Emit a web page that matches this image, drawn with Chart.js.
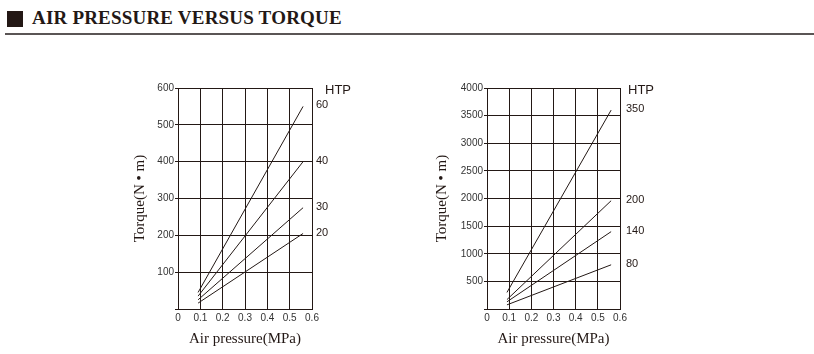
<!DOCTYPE html>
<html>
<head>
<meta charset="utf-8">
<script src="https://cdn.jsdelivr.net/npm/chart.js@4"></script>
<style>
  body { margin: 0; width: 814px; height: 354px; background: #fff; position: relative; overflow: hidden; }
  .head { position: absolute; left: 7px; top: 11px; height: 16px; }
  .head .box { position: absolute; left: 0; top: 0; width: 16px; height: 16px; background: #231815; }
  .head .txt { position: absolute; left: 25px; top: -4px; font: bold 19px "Liberation Serif", serif; color: #231815; white-space: nowrap; letter-spacing: 0.2px; }
  .rule { position: absolute; left: 5px; top: 33px; width: 809px; height: 2px; background: #5a5555; }
  .wrap { position: absolute; top: 78px; width: 250px; height: 272px; }
</style>
</head>
<body>
<div class="head"><div class="box"></div><div class="txt">AIR PRESSURE VERSUS TORQUE</div></div>
<div class="rule"></div>
<div class="wrap" style="left:128px"><canvas id="left" width="250" height="272"></canvas></div>
<div class="wrap" style="left:430px"><canvas id="right" width="250" height="272"></canvas></div>
<script>
// air pressure where each line starts and ends (MPa)
const pressure = [0.09, 0.56];
const xTicks = [0, 0.1, 0.2, 0.3, 0.4, 0.5, 0.6];

// left chart: HTP 60 / 40 / 30 / 20
const leftNames = ['60', '40', '30', '20'];
const leftTorque = [[45, 550], [35, 400], [25, 275], [16, 205]];

// right chart: HTP 350 / 200 / 140 / 80
const rightNames = ['350', '200', '140', '80'];
const rightTorque = [[300, 3600], [170, 1960], [130, 1400], [75, 800]];

const ink = '#231815';

const htpLabels = {
  id: 'htpLabels',
  afterDatasetsDraw(chart, args, opts) {
    const ctx = chart.ctx;
    const area = chart.chartArea;
    ctx.save();
    ctx.fillStyle = ink;
    ctx.textBaseline = 'middle';
    ctx.textAlign = 'left';
    ctx.font = '13px "Liberation Sans", Arial, sans-serif';
    ctx.fillText('HTP', area.right + opts.htpOffset, area.top + 2);
    ctx.font = '11px "Liberation Sans", Arial, sans-serif';
    chart.data.datasets.forEach((ds, i) => {
      const pts = chart.getDatasetMeta(i).data;
      const last = pts[pts.length - 1];
      ctx.fillText(ds.label, area.right + opts.offset, last.y - 1);
    });
    ctx.restore();
  }
};

function makeChart(id, names, torque, yMax, yStep, yWidth, padRight, offset, htpOffset) {
  const datasets = names.map((n, i) => ({
    label: n,
    data: pressure.map((p, j) => ({ x: p, y: torque[i][j] })),
    borderColor: ink,
    borderWidth: 1,
    pointRadius: 0,
    showLine: true,
    fill: false
  }));

  return new Chart(document.getElementById(id), {
    type: 'scatter',
    data: { datasets },
    plugins: [htpLabels],
    options: {
      responsive: false,
      animation: false,
      layout: { padding: { top: 10, right: padRight, left: 0, bottom: 0 } },
      plugins: {
        legend: { display: false },
        tooltip: { enabled: false },
        htpLabels: { offset, htpOffset }
      },
      scales: {
        x: {
          type: 'linear',
          min: 0,
          max: 0.6,
          afterBuildTicks: (s) => { s.ticks = xTicks.map(v => ({ value: v })); },
          afterFit: (s) => { s.height = 41; },
          grid: { color: ink, lineWidth: 1, drawTicks: false },
          border: { color: ink, width: 1 },
          ticks: {
            color: '#333',
            padding: 3,
            font: { family: '"Liberation Sans", Arial, sans-serif', size: 10 },
            maxRotation: 0,
            callback: (v) => v === 0 ? '0' : v.toFixed(1)
          },
          title: {
            display: true,
            text: 'Air pressure(MPa)',
            color: ink,
            padding: { top: 0, bottom: 2 },
            font: { family: '"Liberation Serif", serif', size: 15 }
          }
        },
        y: {
          min: 0,
          max: yMax,
          afterFit: (s) => { s.width = yWidth; },
          grid: { color: ink, lineWidth: 1, tickLength: 3 },
          border: { color: ink, width: 1 },
          ticks: {
            stepSize: yStep,
            color: '#333',
            padding: 1,
            font: { family: '"Liberation Sans", Arial, sans-serif', size: 10 },
            callback: (v) => v === 0 ? '' : v
          },
          title: {
            display: true,
            text: 'Torque(N • m)',
            color: ink,
            padding: { top: 3, bottom: 0 },
            font: { family: '"Liberation Serif", serif', size: 15 }
          }
        }
      }
    }
  });
}

makeChart('left', leftNames, leftTorque, 600, 100, 50, 66, 4, 13);
makeChart('right', rightNames, rightTorque, 4000, 500, 57, 60, 6, 8);
</script>
</body>
</html>
